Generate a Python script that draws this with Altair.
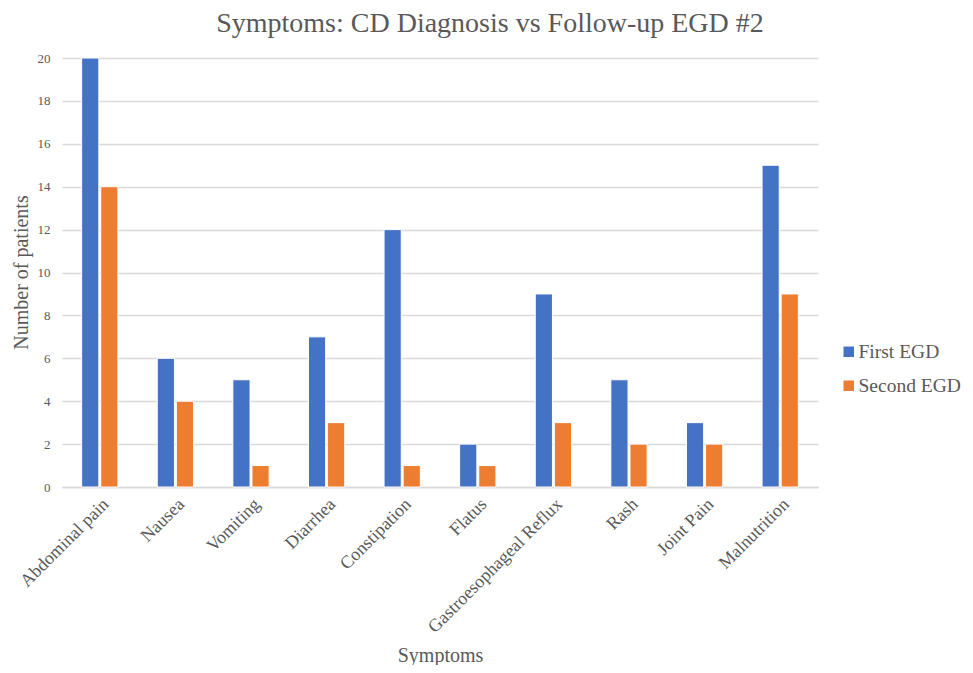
import altair as alt
import pandas as pd

symptoms = ["Abdominal pain", "Nausea", "Vomiting", "Diarrhea", "Constipation",
            "Flatus", "Gastroesophageal Reflux", "Rash", "Joint Pain", "Malnutrition"]
first_egd = [20, 6, 5, 7, 12, 2, 9, 5, 3, 15]
second_egd = [14, 4, 1, 3, 1, 1, 3, 2, 2, 9]
series = ["First EGD", "Second EGD"]
colors = ["#4472C4", "#ED7D31"]

rows = []
for s, a, b in zip(symptoms, first_egd, second_egd):
    rows.append({"Symptom": s, "Series": series[0], "Value": a})
    rows.append({"Symptom": s, "Series": series[1], "Value": b})
df = pd.DataFrame(rows)

FONT = "Liberation Serif"
GRAY = "#595959"

chart = alt.Chart(df).mark_bar(stroke="white", strokeWidth=1).encode(
    x=alt.X("Symptom:N", sort=symptoms,
            scale=alt.Scale(paddingInner=0.52, paddingOuter=0.26),
            axis=alt.Axis(title="Symptoms", labelAngle=-45, labelFontSize=18,
                          labelColor=GRAY, labelFont=FONT, ticks=False,
                          labelLimit=400,
                          domainColor="#d9d9d9", domainWidth=1.5,
                          titleFont=FONT, titleFontSize=20, titleColor=GRAY,
                          titleFontWeight="normal", titleBaseline="alphabetic",
                          titleY=174, labelPadding=8)),
    xOffset=alt.XOffset("Series:N", sort=series, scale=alt.Scale(paddingInner=0.1)),
    y=alt.Y("Value:Q", scale=alt.Scale(domain=[0, 20]),
            axis=alt.Axis(title="Number of patients", values=list(range(0, 21, 2)),
                          labelFontSize=13, labelColor=GRAY, labelFont=FONT,
                          ticks=False, domain=False, gridColor="#d9d9d9",
                          gridWidth=1.5, labelPadding=12,
                          titleFont=FONT, titleFontSize=20, titleColor=GRAY,
                          titleFontWeight="normal", titleBaseline="alphabetic",
                          titleX=-35, titleY=214)),
    color=alt.Color("Series:N", sort=series,
                    scale=alt.Scale(domain=series, range=colors),
                    legend=alt.Legend(title=None, orient="none", legendX=777,
                                      legendY=284, padding=0, labelFont=FONT,
                                      labelFontSize=19.5,
                                      labelColor=GRAY, symbolType="square",
                                      symbolSize=110, symbolStrokeWidth=0,
                                      rowPadding=13, labelOffset=0, labelLimit=300)),
).properties(
    width=756,
    height=429,
    title=alt.TitleParams("Symptoms: CD Diagnosis vs Follow-up EGD #2",
                          font=FONT, fontSize=28, color=GRAY,
                          fontWeight="normal", anchor="middle", dx=50, offset=14),
    padding={"left": 54, "top": 50, "right": 147, "bottom": 178},
    autosize="none",
).configure(font=FONT).configure_view(stroke=None)

chart.save("out.html", embed_options={"renderer": "svg", "actions": False})
